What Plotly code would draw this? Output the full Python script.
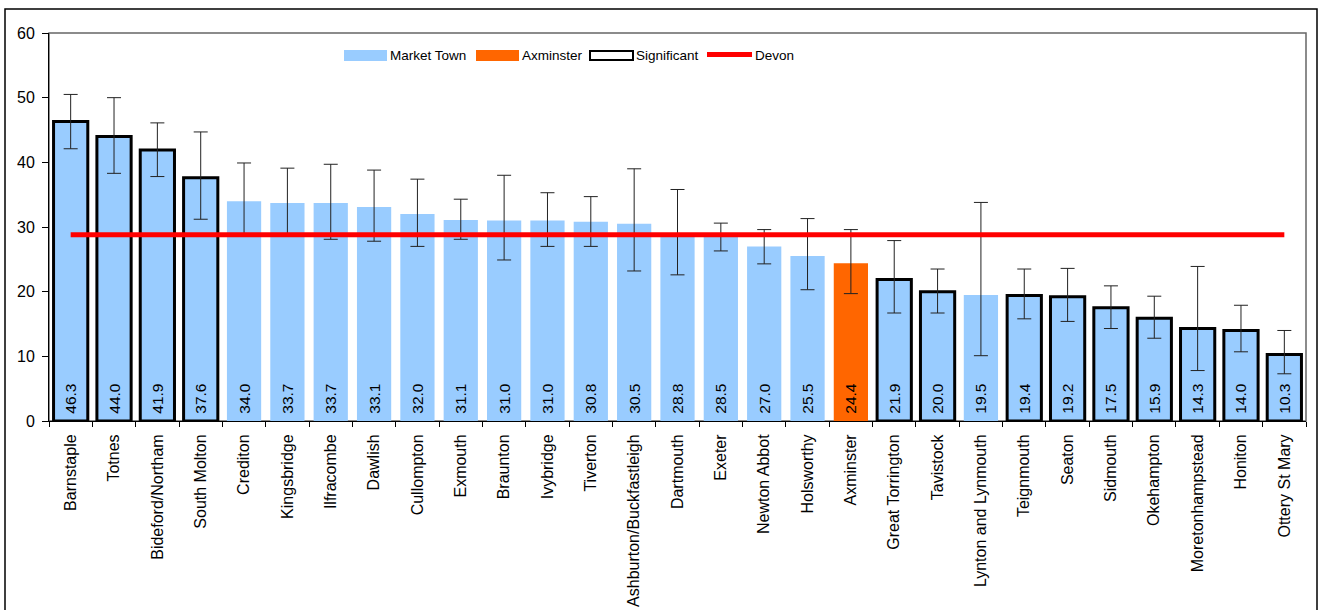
import plotly.graph_objects as go

towns = ["Barnstaple", "Totnes", "Bideford/Northam", "South Molton", "Crediton",
         "Kingsbridge", "Ilfracombe", "Dawlish", "Cullompton", "Exmouth", "Braunton",
         "Ivybridge", "Tiverton", "Ashburton/Buckfastleigh", "Dartmouth", "Exeter",
         "Newton Abbot", "Holsworthy", "Axminster", "Great Torrington", "Tavistock",
         "Lynton and Lynmouth", "Teignmouth", "Seaton", "Sidmouth", "Okehampton",
         "Moretonhampstead", "Honiton", "Ottery St Mary"]
values = [46.3, 44.0, 41.9, 37.6, 34.0, 33.7, 33.7, 33.1, 32.0, 31.1, 31.0, 31.0, 30.8,
          30.5, 28.8, 28.5, 27.0, 25.5, 24.4, 21.9, 20.0, 19.5, 19.4, 19.2, 17.5, 15.9,
          14.3, 14.0, 10.3]
upper_ci = [50.5, 50.0, 46.1, 44.7, 39.9, 39.1, 39.7, 38.8, 37.4, 34.3, 38.0, 35.3, 34.7,
            39.0, 35.8, 30.6, 29.6, 31.3, 29.6, 27.9, 23.5, 33.8, 23.5, 23.6, 20.9, 19.3,
            23.9, 17.9, 14.0]
lower_ci = [42.1, 38.3, 37.8, 31.2, 28.8, 28.6, 28.1, 27.8, 27.0, 28.1, 24.9, 27.0, 27.0,
            23.2, 22.6, 26.3, 24.3, 20.3, 19.7, 16.7, 16.7, 10.1, 15.8, 15.4, 14.3, 12.8,
            7.8, 10.7, 7.3]
significant = [1, 1, 1, 1, 0, 0, 0, 0, 0, 0, 0, 0, 0, 0, 0, 0, 0, 0, 0, 1, 1, 0, 1, 1, 1,
               1, 1, 1, 1]
highlight = "Axminster"
devon_value = 28.8
legend_labels = ["Market Town", "Axminster", "Significant", "Devon"]

BLUE = "#99CCFF"
ORANGE = "#FF6600"
RED = "#FF0000"
FONT = "Arial, Liberation Sans, sans-serif"

W, H = 1319, 610
ML, MT = 49, 33
PW = 1306 - 49
PH = 421 - 33
MR = W - ML - PW
MB = H - MT - PH


def px(x):
    return (x - ML) / PW


def py(y):
    return (MT + PH - y) / PH


colors = [ORANGE if t == highlight else BLUE for t in towns]
line_w = [3 if s else 0 for s in significant]
err_plus = [u - v for u, v in zip(upper_ci, values)]
err_minus = [v - l for v, l in zip(values, lower_ci)]

fig = go.Figure()
fig.add_trace(go.Bar(
    x=towns, y=values,
    marker=dict(color=colors, line=dict(color="black", width=line_w)),
    error_y=dict(type="data", array=err_plus, arrayminus=err_minus,
                 color="#222222", thickness=1, width=7),
    text=["\u00a0" + f"{v:.1f}" for v in values],
    textposition="inside", insidetextanchor="start", textangle=-90,
    insidetextfont=dict(family=FONT, size=15.5, color="black"),
    constraintext="none",
    showlegend=False,
))
fig.add_trace(go.Scatter(
    x=towns, y=[devon_value] * len(towns), mode="lines",
    line=dict(color=RED, width=5), showlegend=False, hoverinfo="skip",
))

shapes = []
# outer border
shapes.append(dict(type="rect", xref="paper", yref="paper",
                   x0=px(5), x1=px(1317), y0=py(640), y1=py(9),
                   line=dict(color="black", width=1.5), fillcolor="rgba(0,0,0,0)"))
# plot area border
shapes.append(dict(type="rect", xref="paper", yref="paper",
                   x0=0, x1=1, y0=0, y1=1,
                   line=dict(color="#666666", width=1.5), fillcolor="rgba(0,0,0,0)",
                   layer="below"))

# legend
annotations = []
leg = [
    (legend_labels[0], 344, 387, "fill", BLUE),
    (legend_labels[1], 476, 519, "fill", ORANGE),
    (legend_labels[2], 590, 633, "box", "black"),
    (legend_labels[3], 707, 752, "line", RED),
]
for label, x0, x1, kind, col in leg:
    if kind == "fill":
        shapes.append(dict(type="rect", xref="paper", yref="paper",
                           x0=px(x0), x1=px(x1), y0=py(61), y1=py(50),
                           fillcolor=col, line=dict(width=0)))
    elif kind == "box":
        shapes.append(dict(type="rect", xref="paper", yref="paper",
                           x0=px(x0), x1=px(x1), y0=py(60), y1=py(51),
                           fillcolor="white", line=dict(color=col, width=2)))
    else:
        shapes.append(dict(type="line", xref="paper", yref="paper",
                           x0=px(x0), x1=px(x1), y0=py(54.5), y1=py(54.5),
                           line=dict(color=col, width=5)))
    annotations.append(dict(text=label, xref="paper", yref="paper",
                            x=px(x1 + 1), y=py(55), xanchor="left", yanchor="middle",
                            showarrow=False,
                            font=dict(family=FONT, size=13.5, color="black")))

fig.update_layout(
    width=W, height=H,
    margin=dict(l=ML, r=MR, t=MT, b=MB, autoexpand=False),
    paper_bgcolor="white", plot_bgcolor="white",
    bargap=0.21,
    font=dict(family=FONT, size=14, color="black"),
    shapes=shapes, annotations=annotations,
    xaxis=dict(showgrid=False, showline=True, linecolor="black", linewidth=1,
               ticks="outside", tickson="boundaries", ticklen=5, tickcolor="black",
               tickangle=-90, ticklabelstandoff=6,
               tickfont=dict(family=FONT, size=16, color="black"),
               range=[-0.5, len(towns) - 0.5], fixedrange=True),
    yaxis=dict(range=[0, 60], dtick=10, showgrid=False, zeroline=False,
               showline=True, linecolor="black", linewidth=1,
               ticks="outside", ticklen=6, tickcolor="black", ticklabelstandoff=4,
               tickfont=dict(family=FONT, size=16, color="black")),
)

fig.write_html("out.html",
               config={"displayModeBar": False},
               post_script="document.body.style.margin='0';"
                           "document.body.style.overflow='hidden';")
